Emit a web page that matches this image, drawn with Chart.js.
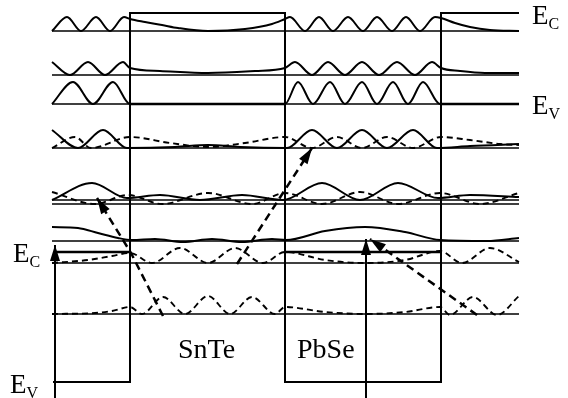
<!DOCTYPE html>
<html lang="en">
<head>
<meta charset="UTF-8" />
<title>SnTe / PbSe</title>
<script src="https://cdn.jsdelivr.net/npm/chart.js"></script>
<style>
  html, body { margin: 0; padding: 0; background: #fff; }
  #wrap { width: 568px; height: 398px; }
</style>
</head>
<body>
<div id="wrap"><canvas id="bands" width="568" height="398"></canvas></div>

<script>
  // reference levels of the states (picture units, y grows downward)
  const levels = [31, 75, 104, 148, 200, 204, 241, 263, 314];
  const span = [52, 519];

  // band edges: SnTe barriers and PbSe wells
  const bandEdge = [[53, 382], [130, 382], [130, 13], [285, 13], [285, 382], [441, 382], [441, 13], [519, 13]];
  const edgeV = [[[130, 104], [285, 104]], [[441, 104], [519, 104]]];
  const edgeC = [[[55, 252], [130, 252]], [[285, 252], [441, 252]]];

  // envelope functions, solid
  const wave1 = [[52, 31], [67, 17], [81, 31], [96, 17], [110, 31], [124, 17], [130, 19], [145, 22], [162, 25], [178, 28], [208, 31], [245, 29], [272, 24], [285, 19], [290, 17], [305, 31], [319, 17], [333, 31], [348, 17], [363, 31], [377, 17], [392, 31], [406, 17], [420, 31], [435, 17], [441, 18], [455, 23], [470, 27], [490, 30], [519, 31]];
  const wave2 = [[52, 62], [70, 75], [88, 62], [105, 75], [123, 62], [130, 68], [160, 71], [208, 73], [255, 71], [285, 68], [295, 62], [312, 75], [328, 62], [345, 75], [362, 62], [379, 75], [397, 62], [415, 75], [432, 62], [441, 68], [460, 71], [485, 73], [519, 73]];
  const wave3 = [[52, 104], [73, 82], [93, 104], [113, 82], [130, 104], [285, 104], [298, 82], [313, 104], [330, 82], [345, 104], [362, 82], [377, 104], [393, 82], [408, 104], [423, 82], [440, 104], [519, 104]];
  const wave4 = [[52, 130], [78, 148], [103, 130], [127, 148], [175, 147], [208, 145], [240, 147], [287, 148], [312, 130], [337, 148], [362, 130], [387, 148], [413, 130], [437, 148], [470, 146], [519, 144]];
  const wave5 = [[52, 200], [92, 183], [127, 198], [160, 195], [200, 200], [242, 195], [283, 200], [322, 183], [360, 200], [398, 183], [438, 198], [470, 195], [519, 197]];
  const wave6 = [[52, 227], [78, 228], [98, 233], [118, 238], [132, 240], [155, 239], [183, 242], [212, 239], [242, 242], [272, 239], [286, 240], [325, 231], [365, 227], [405, 232], [440, 240], [487, 241], [519, 238]];

  // envelope functions, dashed
  const wave4d = [[52, 148], [75, 137], [91, 148], [130, 137], [170, 143], [208, 147], [245, 143], [285, 137], [312, 148], [337, 137], [362, 148], [387, 137], [413, 148], [441, 137], [470, 140], [500, 144], [519, 145]];
  const wave5d = [[52, 192], [95, 204], [128, 195], [162, 204], [208, 193], [252, 204], [285, 193], [322, 204], [360, 192], [398, 204], [440, 193], [480, 204], [519, 193]];
  const wave7d = [[52, 263], [88, 260], [112, 256], [130, 253], [152, 263], [180, 248], [208, 263], [235, 248], [263, 263], [285, 252], [325, 260], [365, 263], [405, 260], [440, 251], [462, 263], [490, 248], [519, 262]];
  const wave8d = [[52, 314], [95, 313], [112, 311], [130, 307], [142, 314], [163, 297], [185, 314], [208, 296], [230, 314], [252, 297], [275, 314], [285, 307], [325, 312], [365, 314], [405, 312], [440, 307], [450, 315], [473, 297], [497, 315], [519, 296]];

  // transitions
  const pumpLeft = [[55, 398], [55, 245]];
  const pumpRight = [[366, 398], [366, 239]];
  const hop1 = [[163, 316], [131, 253], [97, 198]];
  const hop2 = [[237, 264], [312, 148]];
  const hop3 = [[477, 315], [370, 239]];

  const xy = arr => arr.map(p => ({ x: p[0], y: p[1] }));

  function line(arr, extra) {
    return Object.assign({
      data: xy(arr),
      borderColor: '#000',
      borderWidth: 2,
      pointRadius: 0,
      fill: false,
      tension: 0
    }, extra);
  }

  const datasets = [];

  levels.forEach(y => {
    datasets.push(line([[span[0], y], [span[1], y]], { borderWidth: 1.5, borderColor: '#000' }));
  });

  datasets.push(line(bandEdge, { borderWidth: 2 }));
  edgeV.forEach(s => datasets.push(line(s, { borderWidth: 2.6 })));
  edgeC.forEach(s => datasets.push(line(s, { borderWidth: 2.4 })));

  [wave1, wave2, wave3, wave4, wave5, wave6].forEach(w => {
    datasets.push(line(w, { cubicInterpolationMode: 'monotone', borderWidth: 2 }));
  });
  [wave4d, wave5d, wave7d, wave8d].forEach(w => {
    datasets.push(line(w, { cubicInterpolationMode: 'monotone', borderWidth: 1.9, borderDash: [6, 4] }));
  });

  datasets.push(line(pumpLeft, { borderWidth: 2, arrow: true }));
  datasets.push(line(pumpRight, { borderWidth: 2, arrow: true }));
  [hop1, hop2, hop3].forEach(h => {
    datasets.push(line(h, { borderWidth: 2.5, borderDash: [8, 5], arrow: true }));
  });

  // filled arrow heads at the last point of flagged datasets
  const arrowHeads = {
    id: 'arrowHeads',
    afterDatasetsDraw(chart) {
      const ctx = chart.ctx;
      chart.data.datasets.forEach((ds, i) => {
        if (!ds.arrow) return;
        const pts = chart.getDatasetMeta(i).data;
        const tip = pts[pts.length - 1];
        const prev = pts[pts.length - 2];
        const a = Math.atan2(tip.y - prev.y, tip.x - prev.x);
        ctx.save();
        ctx.translate(tip.x, tip.y);
        ctx.rotate(a);
        ctx.beginPath();
        ctx.moveTo(0, 0);
        ctx.lineTo(-16, -5);
        ctx.lineTo(-16, 5);
        ctx.closePath();
        ctx.fillStyle = '#000';
        ctx.fill();
        ctx.restore();
      });
    }
  };

  // text tags placed in data units
  const tags = {
    id: 'tags',
    afterDraw(chart, args, opts) {
      const ctx = chart.ctx;
      const sx = chart.scales.x, sy = chart.scales.y;
      ctx.save();
      ctx.fillStyle = '#000';
      ctx.textBaseline = 'alphabetic';
      opts.items.forEach(t => {
        const px = sx.getPixelForValue(t.x), py = sy.getPixelForValue(t.y);
        ctx.font = t.size + 'px "Liberation Serif", serif';
        ctx.fillText(t.text, px, py);
        if (t.sub) {
          const w = ctx.measureText(t.text).width;
          ctx.font = Math.round(t.size * 0.6) + 'px "Liberation Serif", serif';
          ctx.fillText(t.sub, px + w, py + 5);
        }
      });
      ctx.restore();
    }
  };

  new Chart(document.getElementById('bands'), {
    type: 'line',
    data: { datasets },
    options: {
      responsive: false,
      animation: false,
      layout: { padding: 0 },
      scales: {
        x: { type: 'linear', display: false, min: 0, max: 568 },
        y: { type: 'linear', display: false, min: 0, max: 398, reverse: true }
      },
      plugins: {
        legend: { display: false },
        tooltip: { enabled: false },
        tags: {
          items: [
            { text: 'E', sub: 'C', x: 532, y: 24, size: 27 },
            { text: 'E', sub: 'V', x: 532, y: 114, size: 27 },
            { text: 'E', sub: 'C', x: 13, y: 262, size: 27 },
            { text: 'E', sub: 'V', x: 10, y: 393, size: 27 },
            { text: 'SnTe', x: 178, y: 358, size: 28 },
            { text: 'PbSe', x: 297, y: 358, size: 28 }
          ]
        }
      }
    },
    plugins: [arrowHeads, tags]
  });
</script>
</body>
</html>
